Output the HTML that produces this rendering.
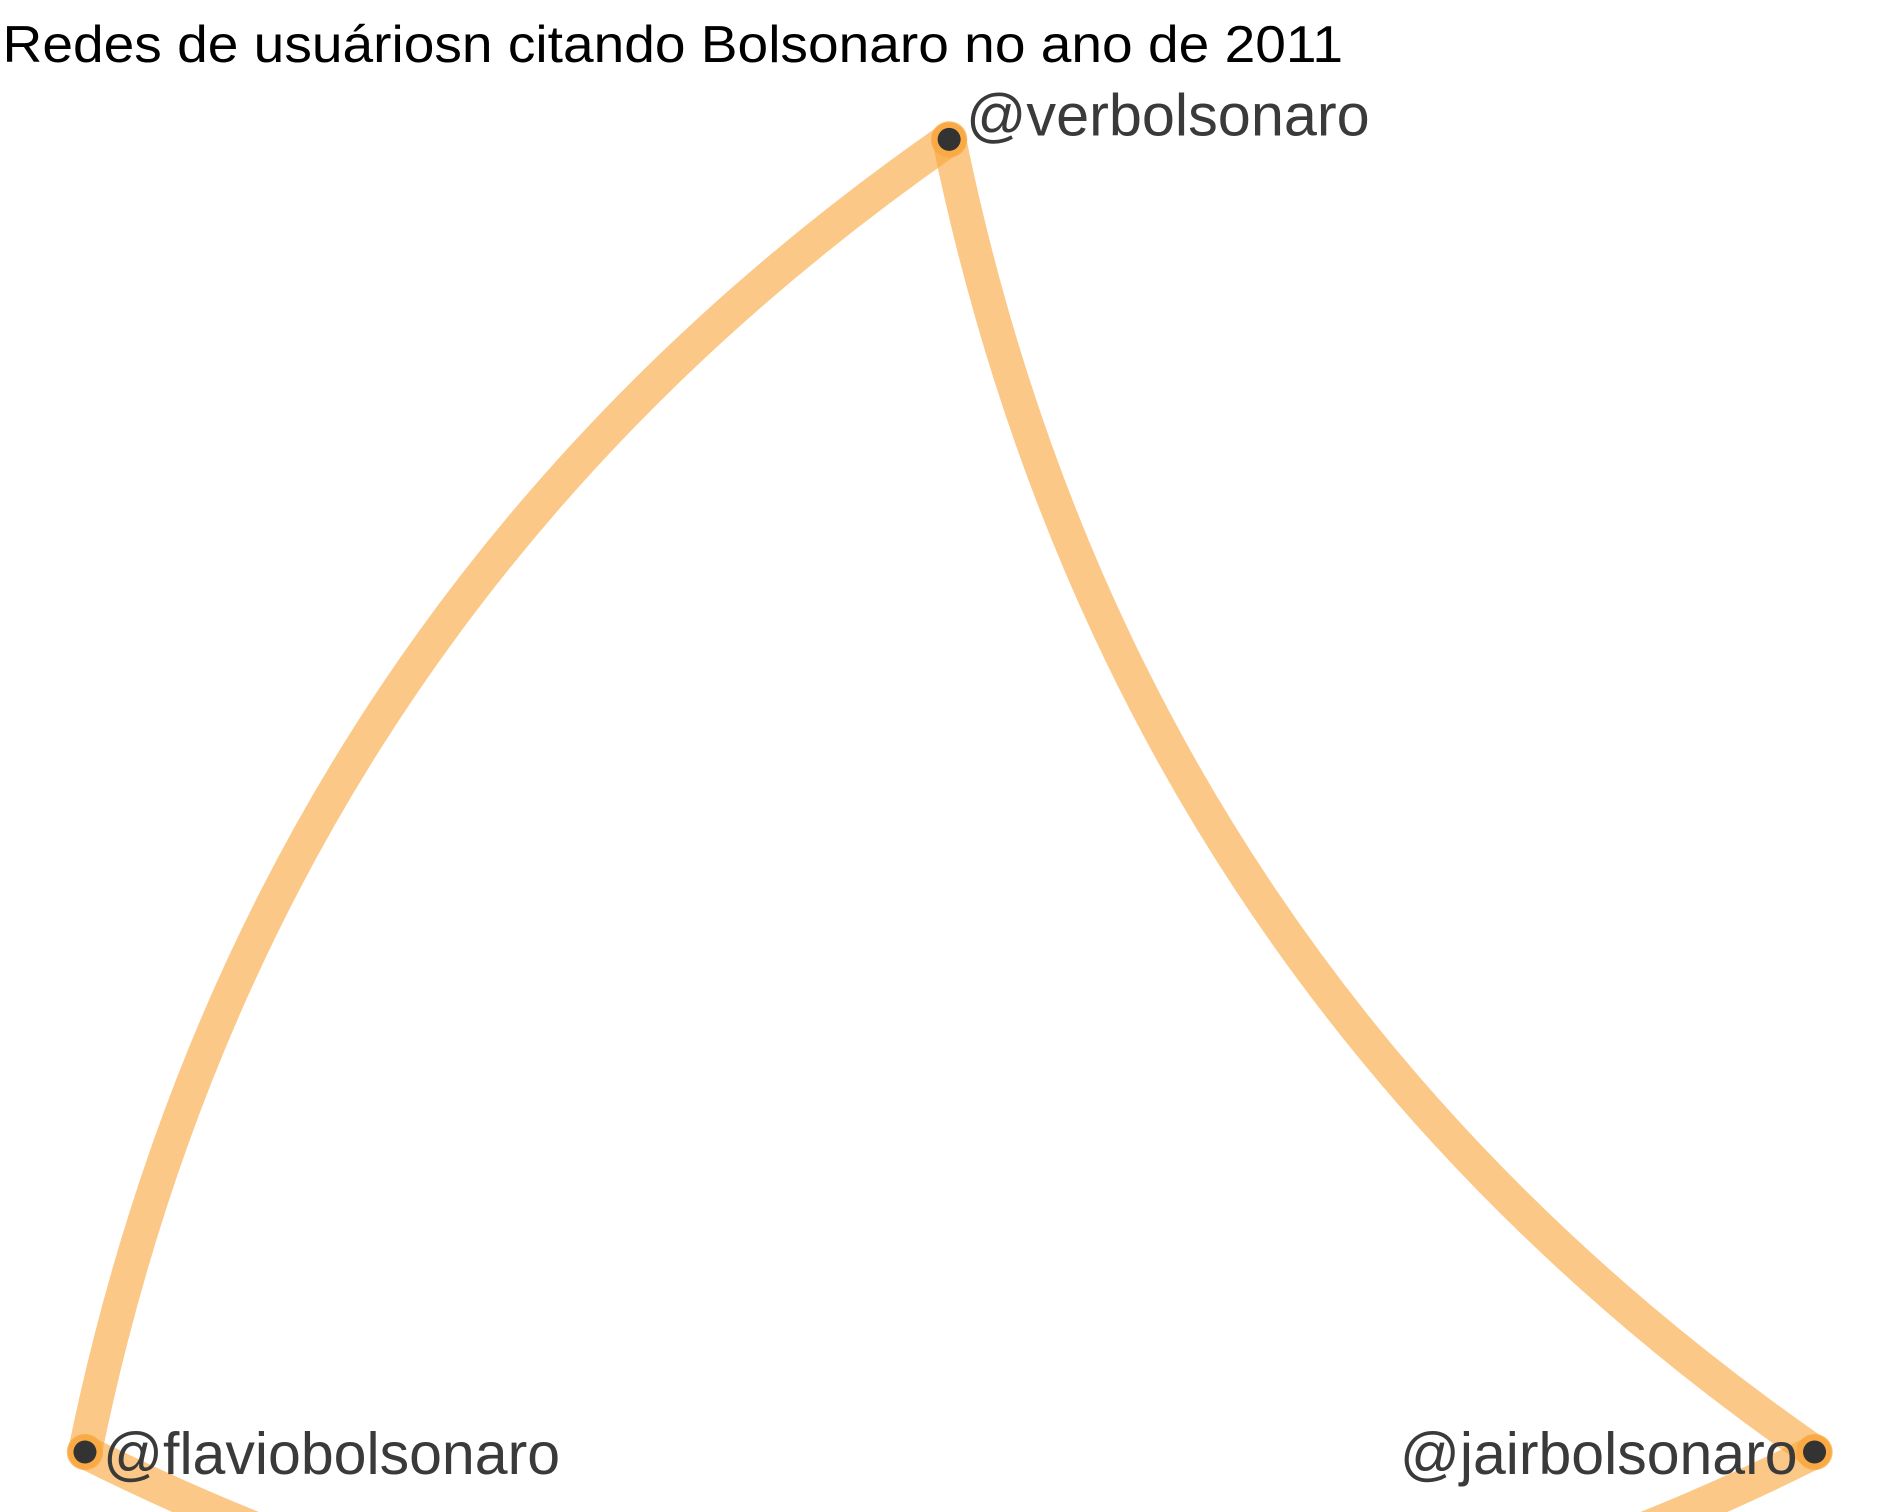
<!DOCTYPE html>
<html><head><meta charset="utf-8"><style>
html,body{margin:0;padding:0;background:#fff;overflow:hidden;width:1891px;height:1512px;}
svg{display:block;}
text{font-family:"Liberation Sans",Arial,sans-serif;}
</style></head><body>
<svg id="chart" width="1891" height="1512" viewBox="0 0 1560 1247.5" xmlns="http://www.w3.org/2000/svg">
<text x="2" y="51" font-size="43" fill="#000" textLength="1106" lengthAdjust="spacingAndGlyphs">Redes de usuáriosn citando Bolsonaro no ano de 2011</text>
<g id="edges"></g>
<g id="nodes"></g>
</svg>
<script>
const nodeNames = ["@verbolsonaro", "@flaviobolsonaro", "@jairbolsonaro"];
const nodeX = [783, 70, 1497];
const nodeY = [115, 1198, 1198];
const edgeFrom = [0, 0, 1];
const edgeTo = [1, 2, 2];
const edgeBend = [0.2, 0.2, 0.25];

const svgNS = "http://www.w3.org/2000/svg";
const eg = document.getElementById('edges');
const ng = document.getElementById('nodes');

for (let i = 0; i < edgeFrom.length; i++) {
  const x0 = nodeX[edgeFrom[i]], y0 = nodeY[edgeFrom[i]];
  const x1 = nodeX[edgeTo[i]], y1 = nodeY[edgeTo[i]];
  const mx = (x0 + x1) / 2, my = (y0 + y1) / 2;
  const dx = x1 - x0, dy = y1 - y0;
  const cx = mx - dy * edgeBend[i], cy = my + dx * edgeBend[i];
  const p = document.createElementNS(svgNS, 'path');
  p.setAttribute('d', `M${x0},${y0} Q${cx},${cy} ${x1},${y1}`);
  p.setAttribute('fill', 'none');
  p.setAttribute('stroke', '#f9a73e');
  p.setAttribute('stroke-opacity', '0.62');
  p.setAttribute('stroke-width', '28');
  p.setAttribute('stroke-linecap', 'round');
  
  
  eg.appendChild(p);
}

const labelX = [797, 85, 1155];
const labelW = [333, 377, 328];
const labelDy = [-3, 18, 18];
for (let i = 0; i < nodeNames.length; i++) {
  const c1 = document.createElementNS(svgNS, 'circle');
  c1.setAttribute('cx', nodeX[i]); c1.setAttribute('cy', nodeY[i]);
  c1.setAttribute('r', '15'); c1.setAttribute('fill', '#f9a73e'); c1.setAttribute('fill-opacity', '0.75');
  
  
  ng.appendChild(c1);
  const c = document.createElementNS(svgNS, 'circle');
  c.setAttribute('cx', nodeX[i]); c.setAttribute('cy', nodeY[i]);
  c.setAttribute('r', '9.5'); c.setAttribute('fill', '#333');
  
  
  ng.appendChild(c);
  const t = document.createElementNS(svgNS, 'text');
  t.setAttribute('x', labelX[i]);
  t.setAttribute('y', nodeY[i] + labelDy[i]);
  t.setAttribute('font-size', '49');
  t.setAttribute('fill', '#3a3a3a');
  t.setAttribute('textLength', labelW[i]);
  t.setAttribute('lengthAdjust', 'spacingAndGlyphs');
  
  
  t.textContent = nodeNames[i];
  ng.appendChild(t);
}
</script>
</body></html>
